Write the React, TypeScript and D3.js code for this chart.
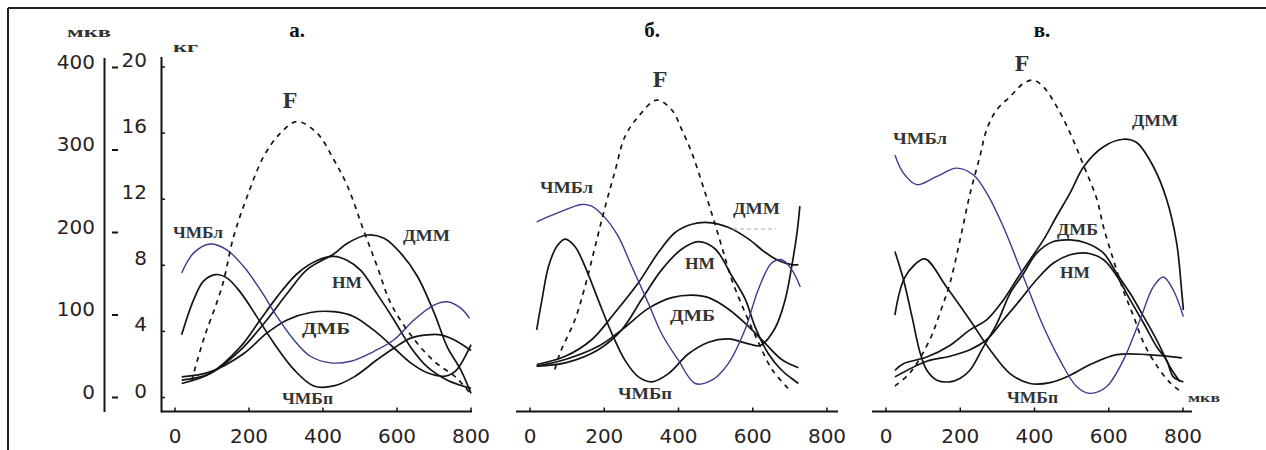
import React from "react";
import * as d3 from "d3";

type P = [number, number][];

// Tick values
const X_TICKS = [0, 200, 400, 600, 800];
const KG_TICKS = [0, 4, 8, 12, 16, 20];
const MKV_TICKS = [0, 100, 200, 300, 400];
const PANEL_TITLES = ["а.", "б.", "в."];
const SERIES_NAMES = ["ЧМБл", "ЧМБп", "ДМБ", "НМ", "ДММ", "F"];

// ---- Panel а (EMG in мкв, F in кг) ----
const A_F: P = [[45, 1.0], [77, 3.5], [127, 6.7], [158, 9.7], [194, 12.1], [240, 14.6], [285, 16.0], [330, 16.7], [384, 16.0], [429, 14.4], [466, 12.8], [510, 10.1], [547, 7.9], [583, 5.7], [640, 3.7], [700, 2.2], [760, 1.2], [800, 0.2]];
const A_L: P = [[18, 151], [50, 175], [95, 186], [140, 179], [185, 159], [230, 131], [276, 98], [321, 70], [366, 50], [420, 42], [475, 44], [538, 56], [592, 70], [646, 94], [700, 112], [736, 116], [773, 108], [796, 96]];
const A_P: P = [[18, 76], [50, 118], [77, 141], [109, 149], [140, 145], [176, 128], [221, 98], [267, 66], [321, 34], [375, 14], [429, 14], [484, 25], [547, 46], [592, 60], [637, 72], [682, 76], [718, 76], [754, 70], [800, 57]];
const A_DMB: P = [[18, 25], [95, 31], [185, 53], [248, 78], [303, 94], [366, 103], [429, 104], [484, 98], [547, 78], [592, 60], [637, 42], [682, 30], [730, 26], [760, 33], [800, 64]];
const A_NM: P = [[18, 17], [95, 29], [176, 61], [230, 94], [276, 122], [330, 150], [384, 166], [429, 171], [466, 166], [502, 154], [547, 125], [592, 94], [637, 61], [682, 37], [736, 21], [800, 11]];
const A_DMM: P = [[18, 21], [95, 29], [176, 57], [248, 94], [303, 126], [357, 155], [429, 174], [466, 187], [520, 197], [565, 193], [610, 175], [655, 147], [701, 102], [736, 61], [773, 33], [800, 5]];

// ---- Panel б ----
const B_F: P = [[67, 1.7], [81, 2.7], [121, 4.7], [148, 6.7], [175, 9.1], [202, 11.5], [229, 13.7], [256, 15.8], [292, 17.0], [341, 18.0], [382, 17.4], [409, 16.2], [436, 14.8], [463, 13.0], [490, 11.1], [517, 9.1], [544, 7.1], [580, 5.1], [616, 3.3], [652, 1.7], [697, 0.5]];
const B_L: P = [[18, 213], [76, 224], [139, 234], [166, 232], [202, 218], [238, 195], [274, 159], [319, 114], [355, 77], [400, 45], [445, 17], [490, 21], [534, 41], [579, 82], [615, 131], [651, 163], [678, 167], [705, 155], [728, 134]];
const B_P: P = [[18, 82], [32, 118], [50, 159], [72, 183], [95, 192], [121, 183], [148, 159], [184, 118], [220, 78], [256, 45], [292, 25], [328, 19], [373, 29], [427, 53], [481, 67], [535, 71], [589, 65], [620, 63], [660, 84], [687, 118], [705, 159], [719, 199], [727, 232]];
const B_DMB: P = [[18, 38], [95, 46], [184, 62], [247, 82], [319, 108], [382, 121], [436, 124], [481, 121], [535, 107], [589, 86], [633, 66], [678, 46], [723, 36]];
const B_NM: P = [[18, 38], [95, 42], [184, 58], [247, 82], [301, 119], [355, 155], [409, 180], [454, 189], [499, 180], [544, 147], [580, 119], [606, 86], [642, 53], [678, 33], [705, 23], [723, 17]];
const B_DMM: P = [[18, 40], [95, 50], [166, 70], [229, 103], [292, 139], [346, 176], [391, 200], [436, 210], [481, 212], [535, 206], [589, 192], [633, 176], [669, 166], [705, 161], [723, 161]];

// ---- Panel в ----
const C_F: P = [[24, 0.7], [65, 1.5], [118, 3.5], [145, 5.1], [172, 6.9], [199, 9.5], [226, 12.3], [253, 14.6], [271, 16.2], [298, 17.4], [334, 18.2], [370, 19.0], [397, 19.2], [424, 18.8], [460, 17.6], [496, 16.0], [533, 14.0], [568, 12.0], [586, 10.3], [613, 8.3], [639, 6.5], [667, 4.9], [694, 3.3], [730, 1.9], [765, 0.9], [792, 0.4]];
const C_L: P = [[24, 294], [47, 272], [83, 258], [137, 268], [190, 278], [235, 270], [271, 248], [316, 207], [352, 167], [388, 126], [424, 86], [469, 45], [514, 13], [549, 5], [594, 13], [639, 45], [684, 94], [720, 134], [747, 146], [774, 130], [801, 98]];
const C_P: P = [[24, 100], [35, 125], [50, 145], [75, 160], [105, 168], [163, 134], [226, 94], [280, 58], [334, 29], [388, 17], [442, 18], [496, 27], [550, 40], [622, 52], [703, 52], [797, 48]];
const C_DMB: P = [[24, 177], [47, 143], [70, 98], [92, 54], [110, 33], [137, 21], [172, 19], [199, 23], [226, 33], [262, 61], [298, 89], [334, 126], [370, 150], [406, 175], [451, 189], [496, 191], [541, 187], [586, 175], [622, 150], [658, 126], [694, 98], [730, 69], [765, 37], [792, 19]];
const C_NM: P = [[24, 25], [110, 44], [172, 50], [226, 58], [271, 70], [316, 94], [361, 118], [406, 143], [451, 163], [496, 173], [541, 175], [586, 167], [622, 147], [658, 118], [694, 90], [730, 61], [756, 45], [774, 25], [801, 19]];
const C_DMM: P = [[24, 33], [47, 41], [110, 49], [172, 63], [226, 82], [271, 94], [316, 118], [352, 143], [388, 167], [424, 191], [460, 220], [496, 248], [533, 280], [586, 304], [639, 313], [675, 309], [720, 280], [756, 240], [783, 187], [797, 126], [801, 106]];

const SERIF = "'Liberation Serif', 'DejaVu Serif', serif";
const SANS = "'DejaVu Sans', 'Liberation Sans', sans-serif";
const INK = "#141414";
const BLUE = "#3b3a8e";
const LABEL = "#333";
const TICKTXT = "#2a221e";

type Lbl = { t: string; x: number; y: number; w: number };

export default function App() {
  const yKg = d3.scaleLinear().domain([0, 20]).range([397.5, 67]);
  const yMkv = d3.scaleLinear().domain([0, 400]).range([397.5, 67.5]);

  const panels = [
    {
      range: [175, 471], axis: [161, 472], titleX: 297,
      F: A_F, L: A_L, Pp: A_P, DMB: A_DMB, NM: A_NM, DMM: A_DMM,
      fLbl: { x: 290, y: 108 },
      labels: [
        { t: SERIES_NAMES[0], x: 173, y: 238, w: 50 },
        { t: SERIES_NAMES[4], x: 403, y: 241, w: 47 },
        { t: SERIES_NAMES[3], x: 332, y: 288, w: 30 },
        { t: SERIES_NAMES[2], x: 302, y: 334, w: 48 },
        { t: SERIES_NAMES[1], x: 282, y: 404, w: 51 },
      ] as Lbl[],
    },
    {
      range: [530, 827], axis: [516, 838], titleX: 652,
      F: B_F, L: B_L, Pp: B_P, DMB: B_DMB, NM: B_NM, DMM: B_DMM,
      fLbl: { x: 660, y: 87 },
      labels: [
        { t: SERIES_NAMES[0], x: 540, y: 193, w: 53 },
        { t: SERIES_NAMES[4], x: 733, y: 214, w: 47 },
        { t: SERIES_NAMES[3], x: 685, y: 269, w: 30 },
        { t: SERIES_NAMES[2], x: 670, y: 321, w: 45 },
        { t: SERIES_NAMES[1], x: 618, y: 399, w: 54 },
      ] as Lbl[],
    },
    {
      range: [886, 1183], axis: [872, 1192], titleX: 1042,
      F: C_F, L: C_L, Pp: C_P, DMB: C_DMB, NM: C_NM, DMM: C_DMM,
      fLbl: { x: 1022, y: 71 },
      labels: [
        { t: SERIES_NAMES[0], x: 893, y: 144, w: 54 },
        { t: SERIES_NAMES[4], x: 1132, y: 126, w: 46 },
        { t: SERIES_NAMES[2], x: 1057, y: 235, w: 41 },
        { t: SERIES_NAMES[3], x: 1060, y: 278, w: 30 },
        { t: SERIES_NAMES[1], x: 1007, y: 403, w: 51 },
      ] as Lbl[],
    },
  ];

  const axisY = 411.5;

  return (
    <svg width={1266} height={450} style={{ position: "absolute", left: 0, top: 0, background: "#fff" }}>
      {/* frame */}
      <line x1={8} y1={8} x2={1266} y2={8} stroke="#222" strokeWidth={2} />
      <line x1={8} y1={8} x2={8} y2={450} stroke="#222" strokeWidth={2} />

      {/* мкв axis */}
      <line x1={104.5} y1={58} x2={104.5} y2={412} stroke={INK} strokeWidth={2} />
      {MKV_TICKS.map((v) => (
        <g key={"m" + v}>
          <line x1={112} x2={118} y1={yMkv(v)} y2={yMkv(v)} stroke={INK} strokeWidth={2} />
          <text x={95} y={yMkv(v) - 6} textAnchor="end" dominantBaseline="central" fontFamily={SANS} fontSize={20} fill={TICKTXT}>{v}</text>
        </g>
      ))}
      <text x={67} y={37} fontFamily={SERIF} fontWeight="bold" fontSize={14} fill={LABEL} textLength={44} lengthAdjust="spacingAndGlyphs">мкв</text>

      {/* кг axis */}
      <line x1={161.5} y1={57} x2={161.5} y2={412.5} stroke={INK} strokeWidth={2} />
      {KG_TICKS.map((v) => (
        <g key={"k" + v}>
          <line x1={161.5} x2={165} y1={yKg(v)} y2={yKg(v)} stroke={INK} strokeWidth={1.5} />
          <text x={147} y={yKg(v) - 7} textAnchor="end" dominantBaseline="central" fontFamily={SANS} fontSize={20} fill={TICKTXT}>{v}</text>
        </g>
      ))}
      <text x={173} y={52} fontFamily={SERIF} fontWeight="bold" fontSize={14} fill={LABEL} textLength={25} lengthAdjust="spacingAndGlyphs">кг</text>

      {panels.map((p, i) => {
        const x = d3.scaleLinear().domain([0, 800]).range(p.range);
        const lineE = d3.line<[number, number]>().x((d) => x(d[0])).y((d) => yMkv(d[1])).curve(d3.curveCatmullRom.alpha(0.5));
        const lineF = d3.line<[number, number]>().x((d) => x(d[0])).y((d) => yKg(d[1])).curve(d3.curveCatmullRom.alpha(0.5));
        return (
          <g key={"p" + i}>
            <text x={p.titleX} y={37} textAnchor="middle" fontFamily={SERIF} fontWeight="bold" fontSize={21} fill="#111">{PANEL_TITLES[i]}</text>
            {/* x axis */}
            <line x1={p.axis[0]} x2={p.axis[1]} y1={axisY} y2={axisY} stroke={INK} strokeWidth={2} />
            {X_TICKS.map((t) => (
              <g key={"x" + t}>
                <line x1={x(t)} x2={x(t)} y1={axisY} y2={axisY - 4} stroke={INK} strokeWidth={1.5} />
                <text x={x(t)} y={443} textAnchor="middle" fontFamily={SANS} fontSize={20} fill={TICKTXT}>{t}</text>
              </g>
            ))}
            {/* curves */}
            {[p.Pp, p.DMB, p.NM, p.DMM].map((s, j) => (
              <path key={"s" + j} d={lineE(s) || ""} fill="none" stroke={INK} strokeWidth={1.7} />
            ))}
            <path d={lineE(p.L) || ""} fill="none" stroke={BLUE} strokeWidth={1.4} />
            <path d={lineF(p.F) || ""} fill="none" stroke={INK} strokeWidth={1.7} strokeDasharray="5,5" />
            {/* labels */}
            <text x={p.fLbl.x} y={p.fLbl.y} textAnchor="middle" fontFamily={SERIF} fontWeight="bold" fontSize={24} fill={LABEL}>{SERIES_NAMES[5]}</text>
            {p.labels.map((l, k) => (
              <text key={"l" + k} x={l.x} y={l.y} fontFamily={SERIF} fontWeight="bold" fontSize={16} fill={LABEL} textLength={l.w} lengthAdjust="spacingAndGlyphs">{l.t}</text>
            ))}
            {i === 1 && <line x1={733} x2={776} y1={229} y2={229} stroke="#aaa" strokeWidth={1} strokeDasharray="4,3" />}
            {i === 2 && <text x={1188} y={402} fontFamily={SERIF} fontWeight="bold" fontSize={13} fill={LABEL} textLength={32} lengthAdjust="spacingAndGlyphs">мкв</text>}
          </g>
        );
      })}
    </svg>
  );
}
